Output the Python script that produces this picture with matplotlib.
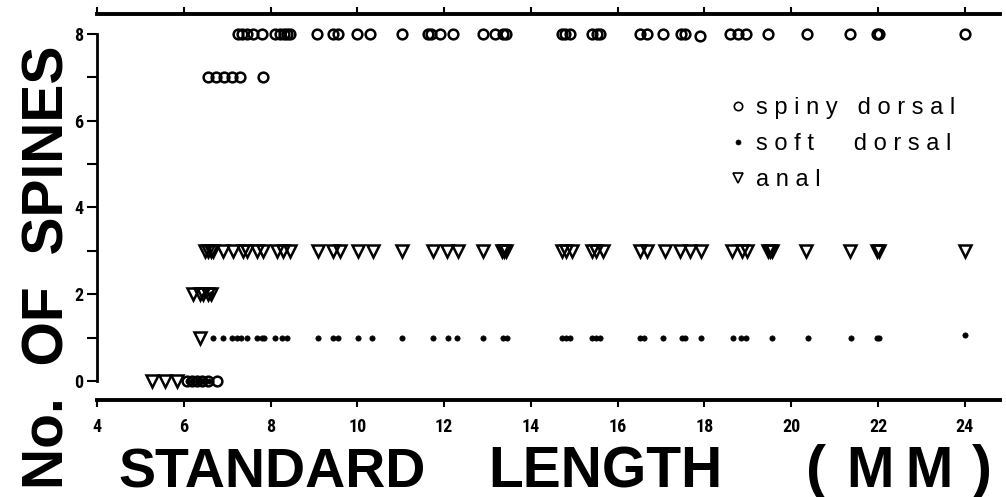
import matplotlib
matplotlib.use("Agg")
import matplotlib.pyplot as plt
from matplotlib import font_manager as fm

# ---------------- data (standard length in mm, number of spines) ----------------
spiny_x = [6.07, 6.20, 6.30, 6.42, 6.56, 6.76,
           6.56, 6.74, 6.93, 7.10, 7.30, 7.82,
           7.25, 7.35, 7.45, 7.59, 7.80, 8.10, 8.22, 8.30, 8.38, 8.45, 9.07, 9.44,
           9.55, 9.99, 10.29, 11.03, 11.62, 11.70, 11.90, 12.20, 12.89, 13.17, 13.35,
           13.42, 14.71, 14.78, 14.90, 15.41, 15.52, 15.59, 16.51, 16.67, 17.04,
           17.45, 17.55, 17.89, 18.59, 18.77, 18.95, 19.46, 20.36, 21.35, 21.97,
           22.02, 24.0]
spiny_y = [0, 0, 0, 0, 0, 0,
           7, 7, 7, 7, 7, 7,
           8, 8, 8, 8, 8, 8, 8, 8, 8, 8, 8, 8,
           8, 8, 8, 8, 8, 8, 8, 8, 8, 8, 8,
           8, 8, 8, 8, 8, 8, 8, 8, 8, 8,
           8, 8, 7.95, 8, 8, 8, 8, 8, 8, 8,
           8, 8]

soft_x = [6.10, 6.22, 6.35, 6.48, 6.58,
          6.50, 6.62,
          6.67, 6.90, 7.10, 7.22, 7.33, 7.45, 7.68, 7.80, 7.86, 8.10, 8.26, 8.38,
          9.09, 9.44, 9.55, 10.01, 10.34, 11.03, 11.74, 12.09, 12.29, 12.89, 13.35,
          13.45, 14.71, 14.80, 14.90, 15.41, 15.50, 15.59, 16.51, 16.60, 17.04,
          17.48, 17.55, 17.92, 18.65, 18.84, 18.95, 19.55, 20.38, 21.37, 21.97,
          22.03, 24.0]
soft_y = [0, 0, 0, 0, 0,
          2, 2,
          1, 1, 1, 1, 1, 1, 1, 1, 1, 1, 1, 1,
          1, 1, 1, 1, 1, 1, 1, 1, 1, 1, 1,
          1, 1, 1, 1, 1, 1, 1, 1, 1, 1,
          1, 1, 1, 1, 1, 1, 1, 1, 1, 1,
          1, 1.05]

anal_x = [5.27, 5.57, 5.84,
          6.37,
          6.21, 6.37, 6.45, 6.55, 6.62,
          6.49, 6.55, 6.62, 6.67, 6.90, 7.13, 7.36, 7.45, 7.68, 7.82, 8.15, 8.29,
          8.45, 9.09, 9.44, 9.60, 10.01, 10.36, 11.03, 11.74, 12.06, 12.32, 12.89,
          13.33, 13.38, 13.42, 14.71, 14.80, 14.94, 15.41, 15.50, 15.66, 16.51,
          16.67, 17.09, 17.43, 17.66, 17.92, 18.63, 18.86, 18.98, 19.46, 19.50,
          19.55, 20.34, 21.35, 21.97, 22.02, 24.0]
anal_y = [0, 0, 0,
          1,
          2, 2, 2, 2, 2,
          3, 3, 3, 3, 3, 3, 3, 3, 3, 3, 3, 3,
          3, 3, 3, 3, 3, 3, 3, 3, 3, 3, 3,
          3, 3, 3, 3, 3, 3, 3, 3, 3, 3,
          3, 3, 3, 3, 3, 3, 3, 3, 3, 3,
          3, 3, 3, 3, 3, 3]

x_ticks = [4, 6, 8, 10, 12, 14, 16, 18, 20, 22, 24]
y_ticks = [0, 2, 4, 6, 8]
y_minor = [1, 3, 5, 7]

labels = ["s p i n y   d o r s a l", "s o f t      d o r s a l", "a n a l"]


# ---------------- fonts ----------------
def pick(cands):
    names = {f.name for f in fm.fontManager.ttflist}
    for c in cands:
        if c in names:
            return c
    return "DejaVu Sans"

narrow = pick(["Liberation Sans Narrow", "DejaVu Sans Condensed", "Roboto Condensed",
               "Liberation Sans"])
bold_sans = pick(["Liberation Sans", "Roboto", "DejaVu Sans"])
reg_sans = pick(["Liberation Sans", "DejaVu Sans"])

# ---------------- figure ----------------
fig = plt.figure(figsize=(10.06, 4.97), dpi=100)
ax = fig.add_axes([97 / 1006, 1 - 400 / 497, (1000 - 97) / 1006, (400 - 14) / 497])

ax.plot(spiny_x, spiny_y, linestyle="none", marker="o", markersize=7.0,
        markerfacecolor="none", markeredgecolor="black", markeredgewidth=1.8,
        label=labels[0])
ax.plot(soft_x, soft_y, linestyle="none", marker="o", markersize=3.8,
        markerfacecolor="black", markeredgecolor="black", markeredgewidth=0.5,
        label=labels[1])
ax.plot(anal_x, anal_y, linestyle="none", marker="v", markersize=9.0,
        markerfacecolor="none", markeredgecolor="black", markeredgewidth=1.8,
        label=labels[2])

ax.set_xlim(4, 24.81)
ax.set_ylim(-0.44, 8.46)

for s in ["top", "bottom"]:
    ax.spines[s].set_linewidth(2.8)
ax.spines["right"].set_visible(False)
ax.spines["left"].set_linewidth(2.0)
ax.spines["left"].set_bounds(0, 8)

ax.set_xticks(x_ticks)
ax.set_xticklabels([str(v) for v in x_ticks])
ax.set_yticks(y_ticks)
ax.set_yticklabels([str(v) for v in y_ticks])
ax.set_yticks(y_minor, minor=True)

ax.tick_params(axis="x", which="major", direction="out", length=5, width=1.5,
               top=True, bottom=True, labeltop=False, pad=8)
ax.tick_params(axis="y", which="both", direction="out", length=7, width=1.5,
               left=True, right=False, pad=3)
for lab in ax.get_xticklabels() + ax.get_yticklabels():
    lab.set_fontfamily(narrow)
    lab.set_fontweight("bold")
    lab.set_fontsize(13)

leg = ax.legend(loc="upper left", bbox_to_anchor=(726 / 1006, 1 - 97 / 497),
                bbox_transform=fig.transFigure, frameon=False,
                handlelength=1.0, handletextpad=0.25, borderpad=0, borderaxespad=0,
                labelspacing=0.6, prop={"family": reg_sans, "size": 17})
for h, ms in zip(leg.legend_handles, [6.0, 3.6, 7.0]):
    h.set_markersize(ms)
    h.set_markeredgewidth(1.2 if ms > 4 else 0.5)

fig.text(49 / 1006, 1 - 267 / 497, "No.  OF  SPINES", rotation=90, ha="center",
         va="center", fontsize=41, fontweight="bold", family=bold_sans)
fig.text(118 / 1006, 1 - 487 / 497, "STANDARD", ha="left",
         va="baseline", fontsize=40, fontweight="bold", family=bold_sans)
fig.text(488 / 1006, 1 - 487 / 497, "LENGTH", ha="left",
         va="baseline", fontsize=41, fontweight="bold", family=bold_sans)
fig.text(806 / 1006, 1 - 487 / 497, "(", ha="left",
         va="baseline", fontsize=43, fontweight="bold", family=bold_sans)
fig.text(900 / 1006, 1 - 487 / 497, "M\u2009M", ha="center",
         va="baseline", fontsize=41, fontweight="bold", family=[bold_sans, "DejaVu Sans"])
fig.text(992 / 1006, 1 - 487 / 497, ")", ha="right",
         va="baseline", fontsize=43, fontweight="bold", family=bold_sans)

fig.savefig("out.png", dpi=100, facecolor="white")
